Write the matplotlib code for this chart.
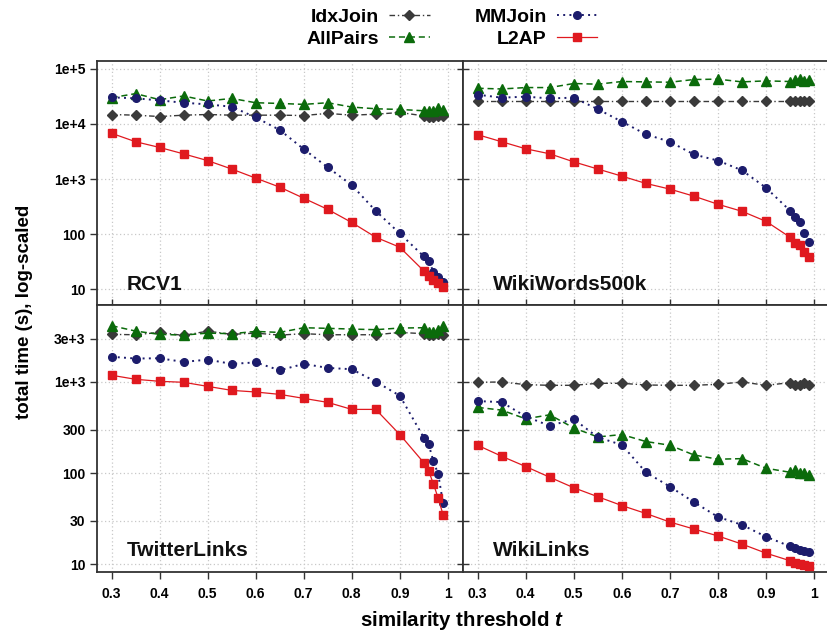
import matplotlib
matplotlib.use("Agg")
import matplotlib.pyplot as plt
from matplotlib.ticker import FixedLocator, FixedFormatter, NullLocator

plt.rcParams['font.family'] = ['Liberation Sans', 'DejaVu Sans']
plt.rcParams['font.weight'] = 'bold'
plt.rcParams['mathtext.fontset'] = 'custom'
plt.rcParams['mathtext.it'] = 'Liberation Sans:bold:italic'
plt.rcParams['mathtext.rm'] = 'Liberation Sans:bold'

# similarity thresholds
t = [0.3, 0.35, 0.4, 0.45, 0.5, 0.55, 0.6, 0.65, 0.7, 0.75, 0.8, 0.85, 0.9,
     0.95, 0.96, 0.97, 0.98, 0.99]

methods = ['IdxJoin', 'AllPairs', 'MMJoin', 'L2AP']

# RCV1
rcv1_idx = [14800, 14400, 13600, 14400, 14800, 14400, 14400, 14400, 14200, 15500,
            14400, 15000, 16100, 14000, 13600, 13600, 13800, 14000]
rcv1_allp = [29900, 35400, 27500, 32100, 26000, 29000, 24200, 23500, 22600, 24200,
             20200, 18800, 18300, 17300, 17500, 17300, 19600, 18000]
rcv1_mm = [30300, 29100, 26700, 24200, 22600, 20500, 13100, 7770, 3490, 1630,
           776, 264, 103, 39.6, 33, 21, 16.8, 13.8]
rcv1_l2ap = [6750, 4750, 3740, 2860, 2160, 1520, 1040, 714, 449, 282,
             163, 88, 58, 21.6, 17.8, 15, 12.9, 11.2]

# WikiWords500k
ww_idx = [26300, 26300, 26300, 26300, 26300, 26300, 26300, 26300, 26300, 26300,
          26300, 26300, 26300, 26300, 26300, 26300, 26300, 26300]
ww_allp = [44300, 43000, 45600, 45600, 54000, 52500, 58700, 57800, 57000, 63800,
           64800, 57800, 60300, 58700, 63000, 64800, 60300, 63000]
ww_mm = [33900, 29900, 31200, 29000, 29900, 18500, 11000, 6470, 4750, 2790,
         2160, 1440, 694, 267, 202, 166, 107, 71]
ww_l2ap = [6380, 4750, 3540, 2870, 2050, 1520, 1130, 833, 657, 489,
           349, 260, 171, 88, 70, 65, 48, 38]

# TwitterLinks
tw_idx = [3330, 3300, 3500, 3240, 3620, 3330, 3440, 3270, 3390, 3300,
          3300, 3300, 3500, 3390, 3270, 3270, 3330, 3300]
tw_allp = [4150, 3620, 3330, 3270, 3440, 3390, 3590, 3500, 3940, 3880,
           3810, 3750, 3910, 3940, 3530, 3560, 3680, 4080]
tw_mm = [1890, 1810, 1820, 1660, 1760, 1580, 1640, 1345, 1580, 1427,
         1380, 1008, 707, 245, 207, 135, 97, 47]
tw_l2ap = [1185, 1070, 1017, 992, 895, 809, 776, 731, 661, 597,
           500, 500, 265, 130, 106, 76, 53, 35]

# WikiLinks
wl_idx = [992, 1000, 935, 919, 919, 967, 967, 927, 919, 919,
          943, 1000, 919, 983, 935, 919, 975, 919]
wl_allp = [526, 491, 394, 436, 313, 249, 265, 222, 202, 158,
           142, 144, 113, 102, 107, 101, 99, 96]
wl_mm = [617, 601, 418, 330, 391, 247, 204, 102, 71, 48,
         33, 27, 20, 15.7, 14.9, 14.4, 14.0, 13.6]
wl_l2ap = [202, 153, 118, 90, 69, 55, 44, 36, 29, 24.3,
           20.4, 16.6, 13.2, 10.9, 10.3, 10, 9.75, 9.5]

xticks = [0.3, 0.4, 0.5, 0.6, 0.7, 0.8, 0.9, 1.0]
xticklabels = ['0.3', '0.4', '0.5', '0.6', '0.7', '0.8', '0.9', '1']
top_yticks = [10, 100, 1e3, 1e4, 1e5]
top_yticklabels = ['10', '100', '1e+3', '1e+4', '1e+5']
bot_yticks = [10, 30, 100, 300, 1e3, 3e3]
bot_yticklabels = ['10', '30', '100', '300', '1e+3', '3e+3']

styles = {
    'IdxJoin':  dict(color='#3a3a3a', ls=(0, (4, 2, 1, 2)), marker='D', ms=5.2, lw=1.0),
    'AllPairs': dict(color='#0b6b0b', ls=(0, (4, 2.5)), marker='^', ms=6.5, lw=1.1),
    'MMJoin':   dict(color='#1c1c6c', ls=(0, (1, 2.2)), marker='o', ms=5.5, lw=1.4),
    'L2AP':     dict(color='#e0191f', ls='-', marker='s', ms=5.5, lw=0.9),
}

panels = [
    ('RCV1', [rcv1_idx, rcv1_allp, rcv1_mm, rcv1_l2ap]),
    ('WikiWords500k', [ww_idx, ww_allp, ww_mm, ww_l2ap]),
    ('TwitterLinks', [tw_idx, tw_allp, tw_mm, tw_l2ap]),
    ('WikiLinks', [wl_idx, wl_allp, wl_mm, wl_l2ap]),
]

fig = plt.figure(figsize=(8.27, 6.31), dpi=100)
W, H = 827.0, 631.0
x0, xm, x1 = 96.7, 462.7, 829.0
y0, ym, y1 = 60.7, 305.0, 572.0
rects = [
    (x0 / W, 1 - ym / H, (xm - x0) / W, (ym - y0) / H),
    (xm / W, 1 - ym / H, (x1 - xm) / W, (ym - y0) / H),
    (x0 / W, 1 - y1 / H, (xm - x0) / W, (y1 - ym) / H),
    (xm / W, 1 - y1 / H, (x1 - xm) / W, (y1 - ym) / H),
]

handles = []
for i, (name, series) in enumerate(panels):
    ax = fig.add_axes(rects[i])
    ax.set_yscale('log')
    for m, vals in zip(methods, series):
        s = styles[m]
        ln, = ax.plot(t, vals, color=s['color'], linestyle=s['ls'], lw=s['lw'],
                      marker=s['marker'], markersize=s['ms'],
                      markeredgecolor=s['color'], markerfacecolor=s['color'],
                      label=m, zorder=3)
        if i == 0:
            handles.append(ln)
    ax.set_xlim(0.269, 1.031)
    top = i < 2
    if top:
        ax.set_ylim(5.2, 140000)
        ax.yaxis.set_major_locator(FixedLocator(top_yticks))
        ax.yaxis.set_major_formatter(FixedFormatter(top_yticklabels))
    else:
        ax.set_ylim(8.2, 7000)
        ax.yaxis.set_major_locator(FixedLocator(bot_yticks))
        ax.yaxis.set_major_formatter(FixedFormatter(bot_yticklabels))
    ax.yaxis.set_minor_locator(NullLocator())
    ax.xaxis.set_major_locator(FixedLocator(xticks))
    ax.xaxis.set_major_formatter(FixedFormatter(xticklabels))
    ax.grid(True, which='major', color='#c8c8c8', linestyle=(0, (1, 2)), lw=0.9, zorder=0)

    left = (i % 2 == 0)
    ax.tick_params(axis='y', left=True, right=False, direction='out' if left else 'inout',
                   length=5 if left else 9, width=1.0, color='#333333',
                   labelleft=left, labelsize=10, pad=3)
    ax.tick_params(axis='x', bottom=True, top=False, direction='inout' if top else 'out',
                   length=9 if top else 5, width=1.0, color='#333333',
                   labelbottom=not top, labelsize=10, pad=6)
    for sp in ax.spines.values():
        sp.set_color('#333333')
        sp.set_linewidth(1.3)
    ax.text(0.083, 0.082, name, transform=ax.transAxes, fontsize=15,
            fontweight='bold', ha='left', va='center', color='#111111', zorder=5)

fig.legend(handles=handles, labels=methods, loc='upper center',
           bbox_to_anchor=(452 / W, 1.005), ncol=2, markerfirst=False, frameon=False,
           prop={'weight': 'bold', 'size': 14}, handlelength=2.1, handletextpad=0.5,
           columnspacing=2.3, labelspacing=0.2, borderaxespad=0.2)

fig.text(25 / W, 1 - 312 / H, 'total time (s), log-scaled', rotation=90,
         ha='center', va='center', fontsize=13.5, fontweight='bold')
fig.text(462 / W, 1 - 620 / H, 'similarity threshold $t$', ha='center', va='center',
         fontsize=14.8, fontweight='bold')

fig.savefig('out.png', dpi=100)
